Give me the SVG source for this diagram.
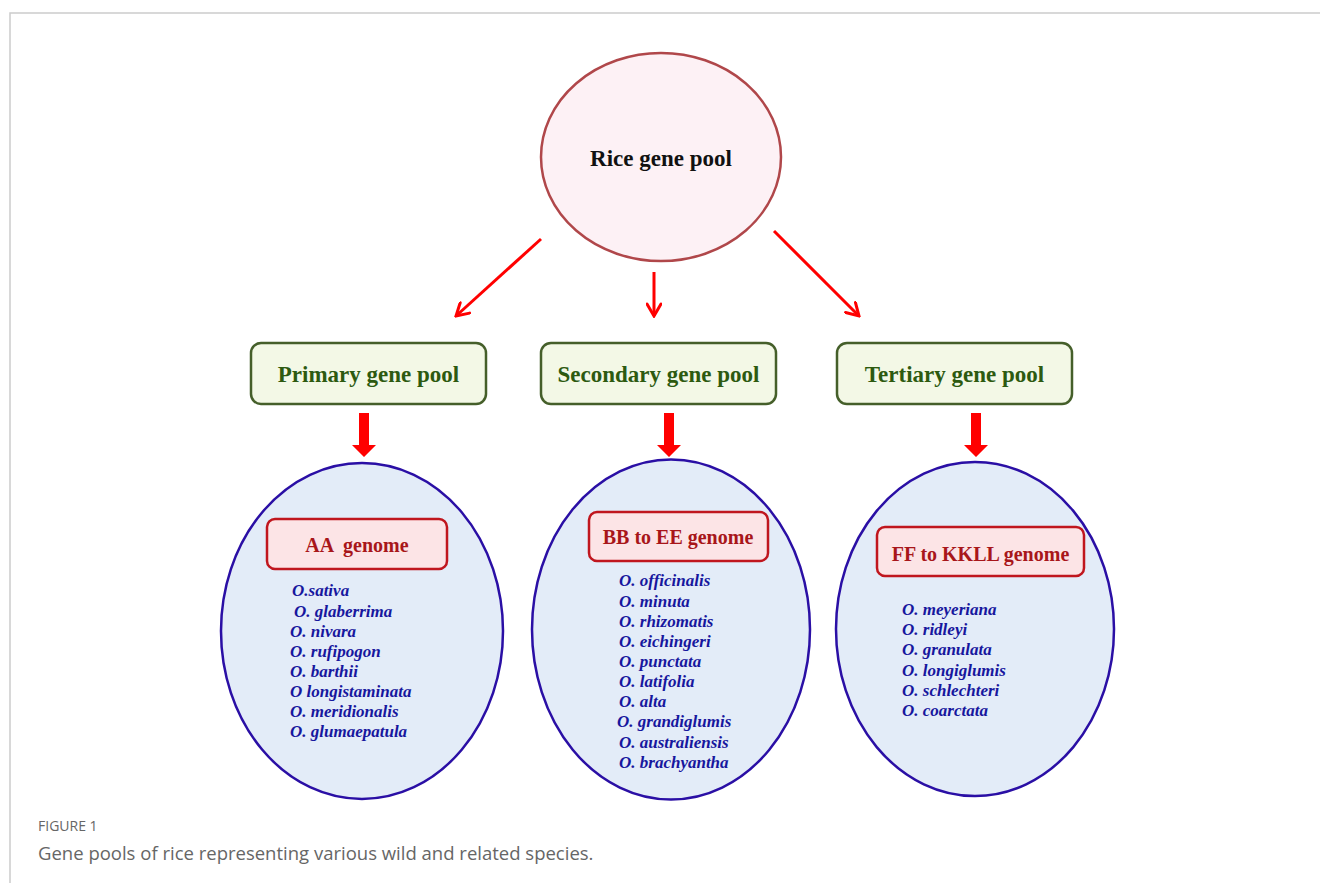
<svg xmlns="http://www.w3.org/2000/svg" width="1320" height="883" viewBox="0 0 1320 883">
<style>
.frame{stroke:#cccccc;stroke-width:1.5;fill:none}
.root{fill:#fdf1f5;stroke:#b0474a;stroke-width:2.5}
.rootlbl{font-family:"Liberation Serif",serif;font-weight:bold;font-size:23px;fill:#111;text-anchor:middle}
.pool{fill:#f3f8e6;stroke:#455f2a;stroke-width:2.5}
.poollbl{font-family:"Liberation Serif",serif;font-weight:bold;font-size:23px;fill:#2d5a10;text-anchor:middle}
.sp{fill:#e3ecf8;stroke:#2a0fa5;stroke-width:2.5}
.gen{fill:#fce4e6;stroke:#c0161e;stroke-width:2.5}
.genlbl{font-family:"Liberation Serif",serif;font-weight:bold;font-size:20px;fill:#a8161a;text-anchor:middle}
.lst{font-family:"Liberation Serif",serif;font-weight:bold;font-style:italic;font-size:17px;fill:#17179e}
.thin{stroke:#ff0000;stroke-width:3;fill:none}
.block{fill:#ff0000}
.fig{font-family:"Open Sans","Liberation Sans",sans-serif;font-size:14px;fill:#666}
.cap{font-family:"Open Sans","Liberation Sans",sans-serif;font-size:18.5px;fill:#666}
</style>
<defs>
<marker id="vh" viewBox="0 0 16 16" refX="14" refY="8" markerWidth="16" markerHeight="16" markerUnits="userSpaceOnUse" orient="auto">
<path d="M2,1 L14,8 L2,15" fill="none" stroke="#ff0000" stroke-width="3" stroke-linecap="round"/>
</marker>
</defs>
<path class="frame" d="M10,883 V13 H1320"/>
<g id="rice-gene-pool">
<ellipse class="root" cx="661" cy="157" rx="120" ry="104"/>
<text class="rootlbl" x="661" y="166">Rice gene pool</text>
</g>
<g id="primary">
<rect class="pool" x="251" y="343" width="235" height="61" rx="10"/>
<text class="poollbl" x="368.5" y="382">Primary gene pool</text>
</g>
<g id="secondary">
<rect class="pool" x="541" y="343" width="235" height="61" rx="10"/>
<text class="poollbl" x="658.5" y="382">Secondary gene pool</text>
</g>
<g id="tertiary">
<rect class="pool" x="837" y="343" width="235" height="61" rx="10"/>
<text class="poollbl" x="954.5" y="382">Tertiary gene pool</text>
</g>
<g id="aa-genome">
<ellipse class="sp" cx="362" cy="631" rx="141" ry="168"/>
<rect class="gen" x="267" y="519" width="180" height="50" rx="8"/>
<text class="genlbl" x="357" y="552" xml:space="preserve">AA  genome</text>
<text class="lst" x="292" y="596">O.sativa</text>
<text class="lst" x="294" y="616.5">O. glaberrima</text>
<text class="lst" x="290" y="636.5">O. nivara</text>
<text class="lst" x="290" y="656.5">O. rufipogon</text>
<text class="lst" x="290" y="676.5">O. barthii</text>
<text class="lst" x="290" y="696.5">O longistaminata</text>
<text class="lst" x="290" y="716.5">O. meridionalis</text>
<text class="lst" x="290" y="737">O. glumaepatula</text>
</g>
<g id="bb-ee-genome">
<ellipse class="sp" cx="671" cy="629.5" rx="139" ry="170"/>
<rect class="gen" x="589" y="512" width="179" height="49" rx="8"/>
<text class="genlbl" x="678" y="543.5">BB to EE genome</text>
<text class="lst" x="619" y="586">O. officinalis</text>
<text class="lst" x="619" y="606.5">O. minuta</text>
<text class="lst" x="619" y="626.5">O. rhizomatis</text>
<text class="lst" x="619" y="646.5">O. eichingeri</text>
<text class="lst" x="619" y="667">O. punctata</text>
<text class="lst" x="619" y="687">O. latifolia</text>
<text class="lst" x="619" y="707">O. alta</text>
<text class="lst" x="617" y="727">O. grandiglumis</text>
<text class="lst" x="619" y="747.5">O. australiensis</text>
<text class="lst" x="619" y="768">O. brachyantha</text>
</g>
<g id="ff-kkll-genome">
<ellipse class="sp" cx="975" cy="629" rx="139" ry="167"/>
<rect class="gen" x="877" y="527" width="207" height="49" rx="8"/>
<text class="genlbl" x="980.5" y="561">FF to KKLL genome</text>
<text class="lst" x="902" y="615">O. meyeriana</text>
<text class="lst" x="902" y="635">O. ridleyi</text>
<text class="lst" x="902" y="655">O. granulata</text>
<text class="lst" x="902" y="675.5">O. longiglumis</text>
<text class="lst" x="902" y="695.5">O. schlechteri</text>
<text class="lst" x="902" y="716">O. coarctata</text>
</g>
<g id="connectors">
<line class="thin" x1="541" y1="239" x2="456" y2="316" marker-end="url(#vh)"/>
<line class="thin" x1="654" y1="272" x2="654" y2="316" marker-end="url(#vh)"/>
<line class="thin" x1="774" y1="231" x2="859" y2="316" marker-end="url(#vh)"/>
<path class="block" d="M359,413 H369 V445 H376 L364,457 L352,445 H359 Z"/>
<path class="block" d="M664,413 H674 V445 H681 L669,457 L657,445 H664 Z"/>
<path class="block" d="M971,413 H981 V445 H988 L976,457 L964,445 H971 Z"/>
</g>
<text class="fig" x="38" y="831">FIGURE 1</text>
<text class="cap" x="38" y="860">Gene pools of rice representing various wild and related species.</text>
</svg>
